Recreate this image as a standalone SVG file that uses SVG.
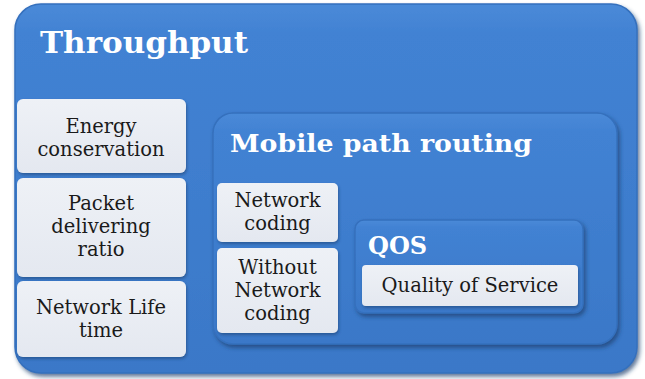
<svg xmlns="http://www.w3.org/2000/svg" width="645" height="379" viewBox="0 0 645 379">
  <defs>
    <linearGradient id="blueFill" x1="0" y1="0" x2="0" y2="1">
      <stop offset="0" stop-color="#4a8ad8"/>
      <stop offset="0.08" stop-color="#4282d3"/>
      <stop offset="1" stop-color="#3a78c8"/>
    </linearGradient>
    <linearGradient id="paleFill" x1="0" y1="0" x2="0" y2="1">
      <stop offset="0" stop-color="#eef1f6"/>
      <stop offset="1" stop-color="#e4e8f0"/>
    </linearGradient>
    <filter id="shadow" x="-10%" y="-10%" width="125%" height="125%">
      <feGaussianBlur in="SourceAlpha" stdDeviation="2"/>
      <feOffset dx="1.5" dy="3" result="b"/>
      <feFlood flood-color="#1d3f6e" flood-opacity="0.7"/>
      <feComposite in2="b" operator="in"/>
      <feMerge><feMergeNode/><feMergeNode in="SourceGraphic"/></feMerge>
    </filter>
    <filter id="softShadow" x="-10%" y="-10%" width="125%" height="125%">
      <feGaussianBlur in="SourceAlpha" stdDeviation="1.5"/>
      <feOffset dx="1" dy="2" result="b"/>
      <feFlood flood-color="#1d3f6e" flood-opacity="0.55"/>
      <feComposite in2="b" operator="in"/>
      <feMerge><feMergeNode/><feMergeNode in="SourceGraphic"/></feMerge>
    </filter>
  </defs>
  <style>
    .blue { fill: url(#blueFill); stroke: #3570bd; stroke-width: 1.5; }
    .pale { fill: url(#paleFill); stroke: none; }
    .head { font-family: "DejaVu Serif", "Liberation Serif", serif; font-weight: bold; fill: #ffffff; }
    .lbl { font-family: "DejaVu Serif", "Liberation Serif", serif; font-size: 19.5px; fill: #1a1a1a; text-anchor: middle; }
  </style>

  <g id="throughput">
    <rect class="blue" x="15" y="4" width="622" height="369" rx="26" filter="url(#shadow)"/>
    <text class="head" x="40" y="53" font-size="30" textLength="208" lengthAdjust="spacingAndGlyphs">Throughput</text>
  </g>

  <g id="energy-conservation">
    <rect class="pale" x="17" y="99" width="169" height="74" rx="6" filter="url(#softShadow)"/>
    <text class="lbl" x="101" y="133">Energy</text>
    <text class="lbl" x="101" y="156">conservation</text>
  </g>

  <g id="packet-delivering-ratio">
    <rect class="pale" x="17" y="178" width="169" height="99" rx="6" filter="url(#softShadow)"/>
    <text class="lbl" x="101" y="210">Packet</text>
    <text class="lbl" x="101" y="233">delivering</text>
    <text class="lbl" x="101" y="256">ratio</text>
  </g>

  <g id="network-life-time">
    <rect class="pale" x="17" y="281" width="169" height="76" rx="6" filter="url(#softShadow)"/>
    <text class="lbl" x="101" y="314">Network Life</text>
    <text class="lbl" x="101" y="337">time</text>
  </g>

  <g id="mobile-path-routing">
    <rect class="blue" x="213" y="113" width="404" height="231" rx="20" filter="url(#shadow)"/>
    <text class="head" x="230" y="152" font-size="25" textLength="302" lengthAdjust="spacingAndGlyphs">Mobile path routing</text>
  </g>

  <g id="network-coding">
    <rect class="pale" x="217" y="183" width="121" height="59" rx="5" filter="url(#softShadow)"/>
    <text class="lbl" x="277.5" y="207">Network</text>
    <text class="lbl" x="277.5" y="230">coding</text>
  </g>

  <g id="without-network-coding">
    <rect class="pale" x="217" y="248" width="121" height="85" rx="5" filter="url(#softShadow)"/>
    <text class="lbl" x="277.5" y="274">Without</text>
    <text class="lbl" x="277.5" y="297">Network</text>
    <text class="lbl" x="277.5" y="320">coding</text>
  </g>

  <g id="qos">
    <rect class="blue" x="355" y="220" width="228" height="93" rx="9" filter="url(#shadow)"/>
    <text class="head" x="368" y="254" font-size="24">QOS</text>
    <rect class="pale" x="362" y="265" width="216" height="41" rx="4" filter="url(#softShadow)"/>
    <text class="lbl" x="470" y="292">Quality of Service</text>
  </g>

  <g id="connectors"/>
</svg>
